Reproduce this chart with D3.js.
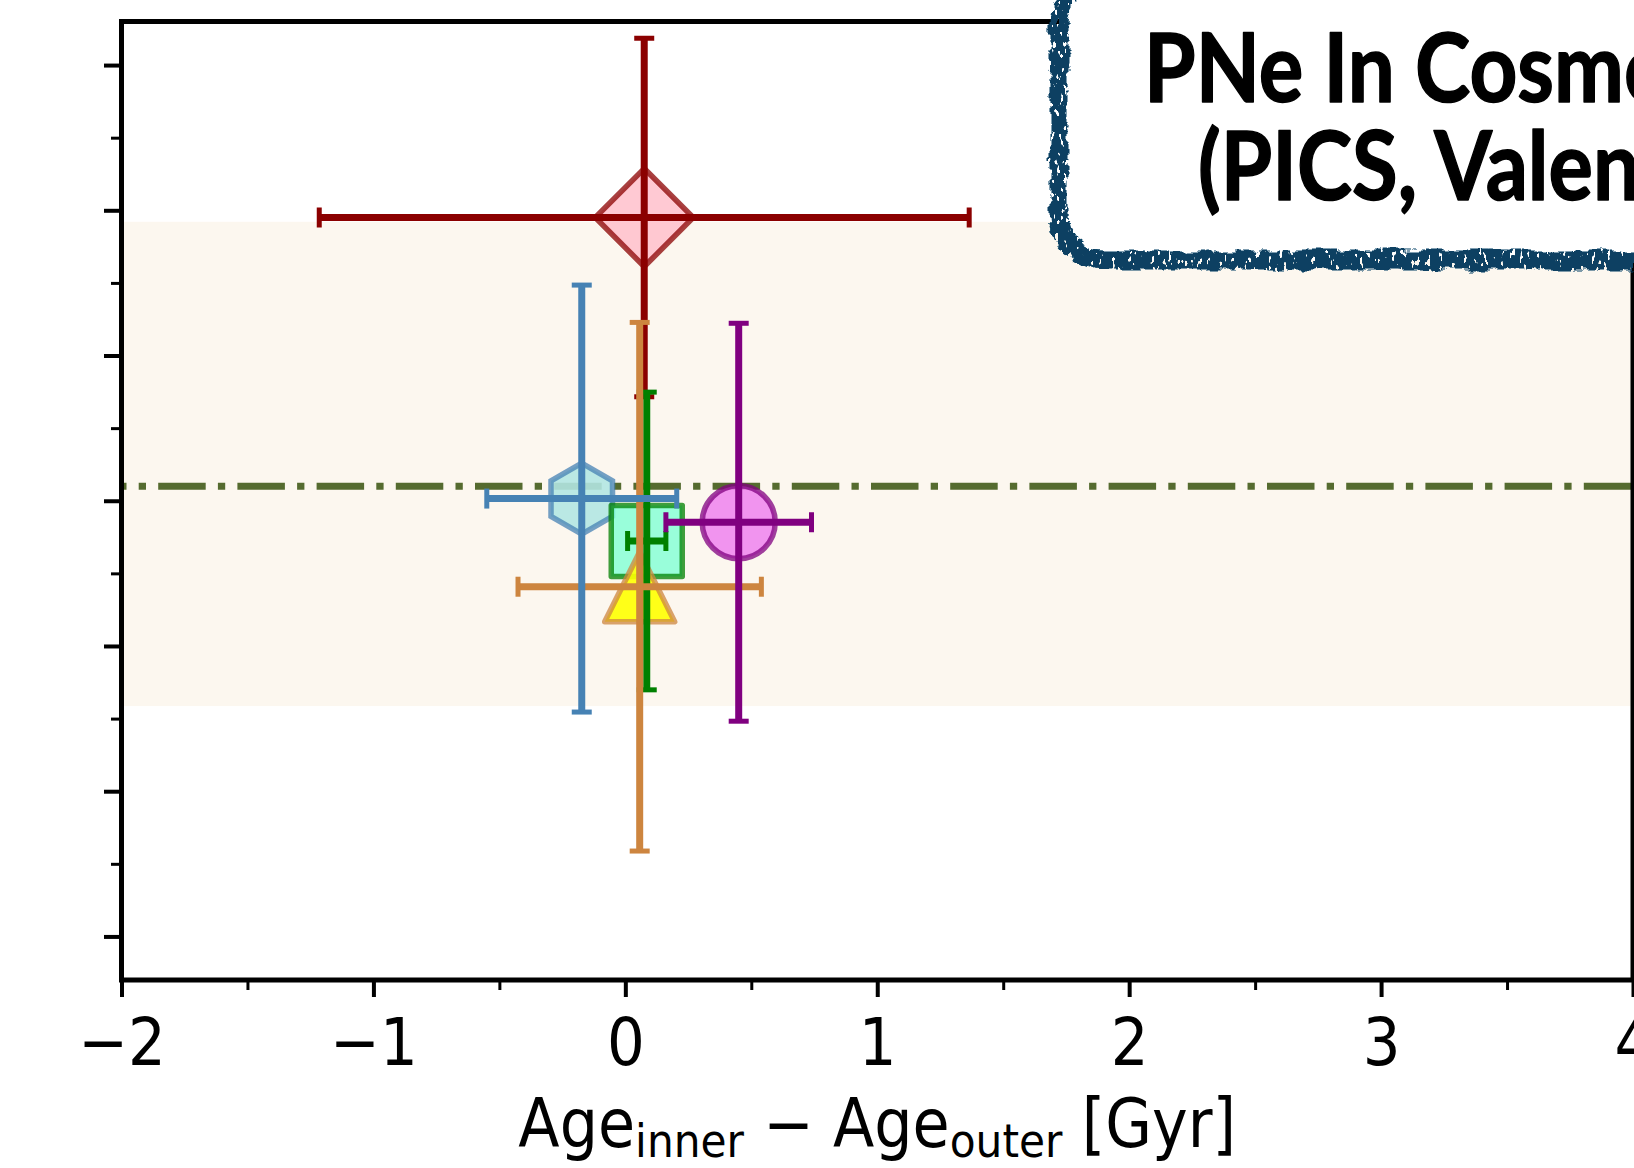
<!DOCTYPE html>
<html><head><meta charset="utf-8">
<script src="https://cdn.jsdelivr.net/npm/d3@7"></script>
<style>html,body{margin:0;padding:0;background:#fff;} svg{display:block;}</style>
</head><body>
<script>
// ---------------- data ----------------
const seriesNames = ["Diamond", "Hexagon", "Square", "Triangle", "Circle"];
const xValues = [0.075, -0.173, 0.085, 0.057, 0.450];
const xErrors = [1.29, 0.377, 0.076, 0.483, 0.289];
const yValues = [0.195, 0.0015, -0.0277, -0.0592, -0.0148];
const yErrors = [0.1234, 0.147, 0.1025, 0.182, 0.137];
const referenceLevel = 0.01;
const bandLimits = [-0.1414, 0.1921];
const xDomain = [-2, 4];
const yDomain = [-0.33, 0.33];
const xTickValues = [-2, -1, 0, 1, 2, 3, 4];
const xMinorTickValues = [-1.5, -0.5, 0.5, 1.5, 2.5, 3.5];
const yTickValues = [-0.3, -0.2, -0.1, 0, 0.1, 0.2, 0.3];
const yMinorTickValues = [-0.25, -0.15, -0.05, 0.05, 0.15, 0.25];
const xLabelParts = [["Age", "main"], ["inner", "sub"], [" \u2212 ", "main"], ["Age", "main"], ["outer", "sub"], [" [Gyr]", "main"]];
const titleLines = ["PNe In Cosmological", "(PICS, Valenzuela et al.)"];

// ---------------- styles ----------------
const markerStyles = {
  Diamond:  {shape: "diamond",  size: 49,   fill: "#ffc0cb", fillOp: 0.85, color: "#8b0000", join: "miter"},
  Hexagon:  {shape: "hexagon",  size: 35.5, fill: "#b3e6e2", fillOp: 0.9,  color: "#4682b4", join: "miter"},
  Square:   {shape: "square",   size: 35.5, fill: "#7fffd4", fillOp: 0.8,  color: "#008000", join: "round"},
  Triangle: {shape: "triangle", size: 35,   fill: "#ffff00", fillOp: 0.9,  color: "#cd853f", join: "round"},
  Circle:   {shape: "circle",   size: 36.5, fill: "#ee82ee", fillOp: 0.85, color: "#800080", join: "round"}
};
const barOrder = ["Diamond", "Square", "Triangle", "Hexagon", "Circle"];

const W = 1634, H = 1168;
const plot = {left: 121.5, right: 1633, top: 21.5, bottom: 980};

const x = d3.scaleLinear().domain(xDomain).range([plot.left, plot.right]);
const y = d3.scaleLinear().domain(yDomain).range([plot.bottom, plot.top]);

const svg = d3.select("body").append("svg").attr("width", W).attr("height", H)
  .attr("viewBox", `0 0 ${W} ${H}`);
svg.append("rect").attr("width", W).attr("height", H).attr("fill", "#fff");

const defs = svg.append("defs");
defs.append("clipPath").attr("id", "plotClip").append("rect")
  .attr("x", plot.left).attr("y", plot.top)
  .attr("width", plot.right - plot.left).attr("height", plot.bottom - plot.top);

const filt = defs.append("filter").attr("id", "rough")
  .attr("x", "-10%").attr("y", "-20%").attr("width", "120%").attr("height", "140%");
filt.append("feTurbulence").attr("type", "fractalNoise").attr("baseFrequency", "0.05 0.09")
  .attr("numOctaves", 4).attr("seed", 3).attr("result", "noise");
filt.append("feDisplacementMap").attr("in", "SourceGraphic").attr("in2", "noise")
  .attr("scale", 11).attr("xChannelSelector", "R").attr("yChannelSelector", "G").attr("result", "disp");
filt.append("feTurbulence").attr("type", "fractalNoise").attr("baseFrequency", "0.25 0.12")
  .attr("numOctaves", 2).attr("seed", 11).attr("result", "speck");
filt.append("feColorMatrix").attr("in", "speck").attr("type", "matrix")
  .attr("values", "0 0 0 0 0  0 0 0 0 0  0 0 0 0 0  0 0 0 -30 20.5").attr("result", "mask");
filt.append("feComposite").attr("in", "disp").attr("in2", "mask").attr("operator", "in");

// ---------------- plot content ----------------
const content = svg.append("g").attr("clip-path", "url(#plotClip)");

content.append("rect")
  .attr("x", x(xDomain[0])).attr("width", x(xDomain[1]) - x(xDomain[0]))
  .attr("y", y(bandLimits[1])).attr("height", y(bandLimits[0]) - y(bandLimits[1]))
  .attr("fill", "#fcf7ef");

content.append("line")
  .attr("x1", x(xDomain[0])).attr("x2", x(xDomain[1]))
  .attr("y1", y(referenceLevel)).attr("y2", y(referenceLevel))
  .attr("stroke", "#556b2f").attr("stroke-width", 7.2)
  .attr("stroke-dasharray", "47.5 12.2 7.3 12.2").attr("stroke-dashoffset", 42.5);

function shapePath(type, s) {
  if (type === "diamond") return `M0,${-s}L${s},0L0,${s}L${-s},0Z`;
  if (type === "square") return `M${-s},${-s}H${s}V${s}H${-s}Z`;
  if (type === "triangle") return `M0,${-s}L${s},${s}L${-s},${s}Z`;
  if (type === "hexagon") {
    const pts = d3.range(6).map(k => {
      const a = Math.PI / 2 + k * Math.PI / 3;
      return [s * Math.cos(a), -s * Math.sin(a)];
    });
    return "M" + pts.map(p => p.join(",")).join("L") + "Z";
  }
  const p = d3.path(); p.arc(0, 0, s, 0, 2 * Math.PI); p.closePath(); return p.toString();
}

const points = seriesNames.map((name, i) => ({
  name, x: xValues[i], y: yValues[i], xe: xErrors[i], ye: yErrors[i], st: markerStyles[name]
}));

// markers
content.append("g").selectAll("path").data(points).join("path")
  .attr("transform", d => `translate(${x(d.x)},${y(d.y)})`)
  .attr("d", d => shapePath(d.st.shape, d.st.size))
  .attr("fill", d => d.st.fill).attr("fill-opacity", d => d.st.fillOp)
  .attr("stroke", d => d.st.color).attr("stroke-opacity", 0.75)
  .attr("stroke-width", 5.5).attr("stroke-linejoin", d => d.st.join);

// error bars
const capHalf = 10;
const bars = content.append("g").selectAll("g")
  .data(barOrder.map(n => points.find(p => p.name === n))).join("g")
  .attr("stroke", d => d.st.color).attr("fill", "none");
bars.append("line").attr("stroke-width", 7)
  .attr("x1", d => x(d.x - d.xe)).attr("x2", d => x(d.x + d.xe))
  .attr("y1", d => y(d.y)).attr("y2", d => y(d.y));
bars.append("line").attr("stroke-width", 7)
  .attr("x1", d => x(d.x)).attr("x2", d => x(d.x))
  .attr("y1", d => y(d.y - d.ye)).attr("y2", d => y(d.y + d.ye));
[-1, 1].forEach(sgn => {
  bars.append("line").attr("stroke-width", 5)
    .attr("x1", d => x(d.x + sgn * d.xe)).attr("x2", d => x(d.x + sgn * d.xe))
    .attr("y1", d => y(d.y) - capHalf).attr("y2", d => y(d.y) + capHalf);
  bars.append("line").attr("stroke-width", 5)
    .attr("y1", d => y(d.y + sgn * d.ye)).attr("y2", d => y(d.y + sgn * d.ye))
    .attr("x1", d => x(d.x) - capHalf).attr("x2", d => x(d.x) + capHalf);
});

// ---------------- x label (measure to get the condensed width) ----------------
const labelG = svg.append("g");
const labelText = labelG.append("text")
  .attr("font-family", "DejaVu Sans").attr("font-size", 67)
  .attr("text-anchor", "middle").attr("fill", "#000");
let prevSub = false;
xLabelParts.forEach(([t, kind]) => {
  const ts = labelText.append("tspan").text(t);
  if (kind === "sub") { ts.attr("font-size", 47).attr("dy", prevSub ? 0 : 10); prevSub = true; }
  else { if (prevSub) ts.attr("dy", -10); prevSub = false; }
});
labelText.style("white-space", "pre");
const labelLen = labelText.node().getComputedTextLength();
const sx = 718 / labelLen;
labelG.attr("transform", `translate(${(plot.left + plot.right) / 2},1147) scale(${sx},1)`);

// ---------------- axes ----------------
const fmt = d => (d < 0 ? "\u2212" + Math.abs(d) : String(d));
const xAxis = svg.append("g").attr("transform", `translate(0,${plot.bottom})`)
  .call(d3.axisBottom(x).tickValues(xTickValues).tickSize(17).tickFormat(fmt));
xAxis.select(".domain").remove();
xAxis.selectAll(".tick line").attr("stroke", "#000").attr("stroke-width", 4);
xAxis.selectAll(".tick text")
  .attr("y", null).attr("dy", null)
  .attr("font-family", "DejaVu Sans").attr("font-size", 66).attr("fill", "#000")
  .attr("transform", `translate(0,${1065 - plot.bottom}) scale(${sx},1)`);
const xMinor = svg.append("g").attr("transform", `translate(0,${plot.bottom})`)
  .call(d3.axisBottom(x).tickValues(xMinorTickValues).tickSize(10).tickFormat(""));
xMinor.select(".domain").remove();
xMinor.selectAll(".tick line").attr("stroke", "#000").attr("stroke-width", 3);

const yAxis = svg.append("g").attr("transform", `translate(${plot.left},0)`)
  .call(d3.axisLeft(y).tickValues(yTickValues).tickSize(17.5).tickFormat(""));
yAxis.select(".domain").remove();
yAxis.selectAll(".tick line").attr("stroke", "#000").attr("stroke-width", 4);
const yMinor = svg.append("g").attr("transform", `translate(${plot.left},0)`)
  .call(d3.axisLeft(y).tickValues(yMinorTickValues).tickSize(10.5).tickFormat(""));
yMinor.select(".domain").remove();
yMinor.selectAll(".tick line").attr("stroke", "#000").attr("stroke-width", 3);

// spines
svg.append("rect").attr("x", plot.left).attr("y", plot.top)
  .attr("width", plot.right - plot.left).attr("height", plot.bottom - plot.top)
  .attr("fill", "none").attr("stroke", "#000").attr("stroke-width", 5);

// ---------------- title box ----------------
const box = {x: 1059, y: -22, w: 760, h: 282, r: 46};
svg.append("rect").attr("x", box.x).attr("y", box.y).attr("width", box.w).attr("height", box.h)
  .attr("rx", box.r).attr("fill", "#fff");
svg.append("rect").attr("x", box.x).attr("y", box.y).attr("width", box.w).attr("height", box.h)
  .attr("rx", box.r).attr("fill", "none").attr("stroke", "#073f62").attr("stroke-width", 19)
  .attr("filter", "url(#rough)");

const titleSpecs = [
  {text: titleLines[0], x: 1144, y: 102, visibleChars: 11, target: 480},
  {text: titleLines[1], x: 1198, y: 200, visibleChars: 11, target: 395}
];
titleSpecs.forEach(spec => {
  const g = svg.append("g");
  const t = g.append("text").text(spec.text)
    .attr("font-family", "Lato, 'Open Sans', sans-serif").attr("font-weight", 700)
    .attr("font-size", 96).attr("fill", "#000")
    .attr("stroke", "#000").attr("stroke-width", 1.5).attr("stroke-linejoin", "round");
  const len = t.node().getSubStringLength(0, spec.visibleChars);
  const s = spec.target / len;
  g.attr("transform", `translate(${spec.x},${spec.y}) scale(${s},1)`);
});
</script>
</body></html>
